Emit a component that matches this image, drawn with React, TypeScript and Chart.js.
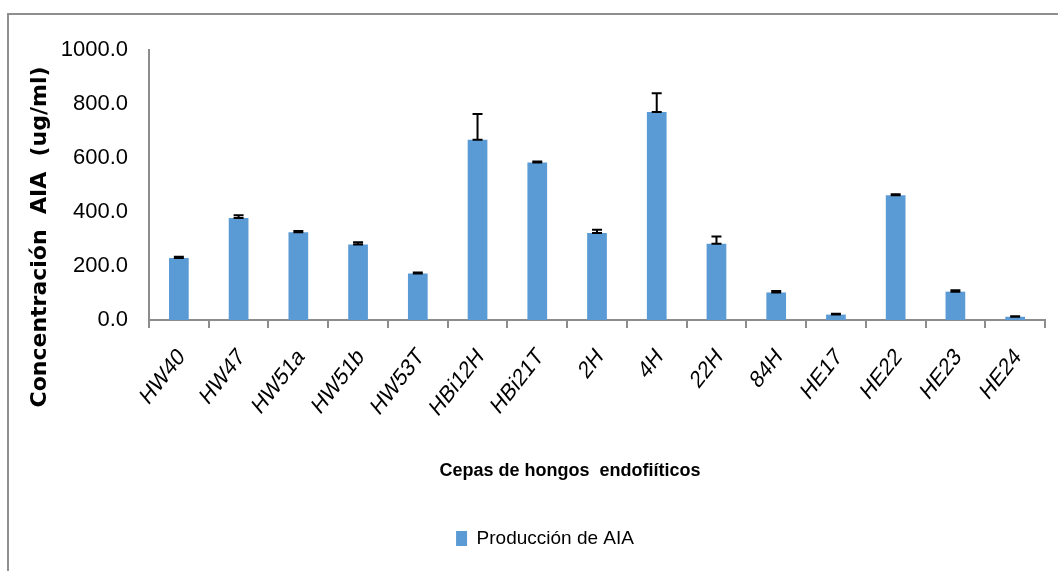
import React, { useEffect, useRef } from 'react';
import { Chart, registerables } from 'chart.js';

Chart.register(...registerables);

const categories = ['HW40', 'HW47', 'HW51a', 'HW51b', 'HW53T', 'HBi12H', 'HBi21T', '2H', '4H', '22H', '84H', 'HE17', 'HE22', 'HE23', 'HE24'];
const values = [230, 378, 325, 280, 172, 668, 583, 322, 770, 282, 102, 20, 462, 105, 12];
const errors = [4, 10, 5, 8, 4, 95, 4, 12, 70, 27, 5, 3, 4, 5, 2];
const seriesLabel = 'Producción de AIA';
const yTitle = 'Concentración  AIA  (ug/ml)';
const xTitle = 'Cepas de hongos  endofiíticos';
const yMin = 0;
const yMax = 1000;
const yStep = 200;

const errorBarPlugin = {
  id: 'errorBars',
  afterDatasetsDraw(chart: any) {
    const ctx = chart.ctx;
    const meta = chart.getDatasetMeta(0);
    const ys = chart.scales.y;
    ctx.save();
    ctx.strokeStyle = '#000';
    ctx.lineWidth = 2;
    meta.data.forEach((bar: any, i: number) => {
      const x = bar.x;
      const y0 = ys.getPixelForValue(values[i]);
      const y1 = ys.getPixelForValue(values[i] + errors[i]);
      ctx.beginPath();
      ctx.moveTo(x, y0);
      ctx.lineTo(x, y1);
      ctx.moveTo(x - 5, y0);
      ctx.lineTo(x + 5, y0);
      ctx.moveTo(x - 5, y1);
      ctx.lineTo(x + 5, y1);
      ctx.stroke();
    });
    ctx.restore();
  },
};

// italic, rotated category labels placed at the x scale's tick positions
const xLabelPlugin = {
  id: 'xLabels',
  afterDraw(chart: any) {
    const ctx = chart.ctx;
    const xs = chart.scales.x;
    const angle = (52 * Math.PI) / 180;
    ctx.save();
    ctx.fillStyle = '#000';
    ctx.font = '22px "Liberation Sans"';
    ctx.textAlign = 'right';
    ctx.textBaseline = 'middle';
    categories.forEach((label, i) => {
      const x = xs.getPixelForTick(i);
      ctx.save();
      ctx.translate(x + 3, xs.top + 33);
      ctx.rotate(-angle);
      ctx.transform(1, 0, -0.21, 1, 0, 0);
      ctx.fillText(label, 0, 0);
      ctx.restore();
    });
    ctx.restore();
  },
};

const axisTitlePlugin = {
  id: 'axisTitles',
  afterDraw(chart: any) {
    const ctx = chart.ctx;
    ctx.save();
    ctx.fillStyle = '#000';
    ctx.textAlign = 'center';
    ctx.textBaseline = 'middle';
    ctx.save();
    ctx.translate(31, 222);
    ctx.rotate(-Math.PI / 2);
    ctx.font = 'bold 22px "DejaVu Sans"';
    ctx.fillText(yTitle, 0, 0);
    ctx.restore();
    ctx.font = 'bold 18px "Liberation Sans"';
    ctx.fillText(xTitle, 561, 456);
    ctx.restore();
  },
};

export default function App() {
  const ref = useRef<HTMLCanvasElement>(null);
  useEffect(() => {
    if (!ref.current) return;
    const chart = new Chart(ref.current, {
      type: 'bar',
      data: {
        labels: categories,
        datasets: [
          {
            label: seriesLabel,
            data: values,
            backgroundColor: '#5B9BD5',
            borderWidth: 0,
            barPercentage: 0.33,
            categoryPercentage: 1,
          },
        ],
      },
      options: {
        responsive: false,
        animation: false,
        devicePixelRatio: 1,
        layout: { padding: { top: 35, left: 36, right: 36, bottom: 13 } },
        plugins: {
          tooltip: { enabled: false },
          title: { display: false },
          legend: {
            display: true,
            position: 'bottom',
            labels: {
              boxWidth: 11,
              boxHeight: 15,
              padding: 10,
              color: '#000',
              font: { family: '"Liberation Sans"', size: 19 },
            },
          },
        },
        scales: {
          x: {
            offset: true,
            afterFit(scale: any) {
              scale.height = 199;
            },
            grid: {
              display: true,
              offset: true,
              drawOnChartArea: false,
              drawTicks: true,
              tickLength: 8,
              color: '#8c8c8c',
              lineWidth: 2,
            },
            border: { display: true, color: '#8c8c8c', width: 2 },
            ticks: {
              display: false,
              autoSkip: false,
            },
          },
          y: {
            min: yMin,
            max: yMax,
            afterFit(scale: any) {
              scale.width = 104;
            },
            grid: { display: false, drawTicks: false },
            border: { display: true, color: '#8c8c8c', width: 2 },
            ticks: {
              stepSize: yStep,
              padding: 21,
              color: '#000',
              font: { family: '"Liberation Sans"', size: 22 },
              callback: (v: any) => Number(v).toFixed(1),
            },
          },
        },
      },
      plugins: [errorBarPlugin, xLabelPlugin, axisTitlePlugin],
    });
    return () => chart.destroy();
  }, []);

  return (
    <div style={{ position: 'absolute', left: 0, top: 0, width: 1058, height: 571, overflow: 'hidden', background: '#fff' }}>
      <div
        style={{
          position: 'absolute',
          left: 7,
          top: 13,
          width: 1200,
          height: 700,
          borderTop: '2px solid #8e8e8e',
          borderLeft: '2px solid #8e8e8e',
        }}
      >
        <canvas ref={ref} width={1072} height={556} style={{ display: 'block' }} />
      </div>
    </div>
  );
}
